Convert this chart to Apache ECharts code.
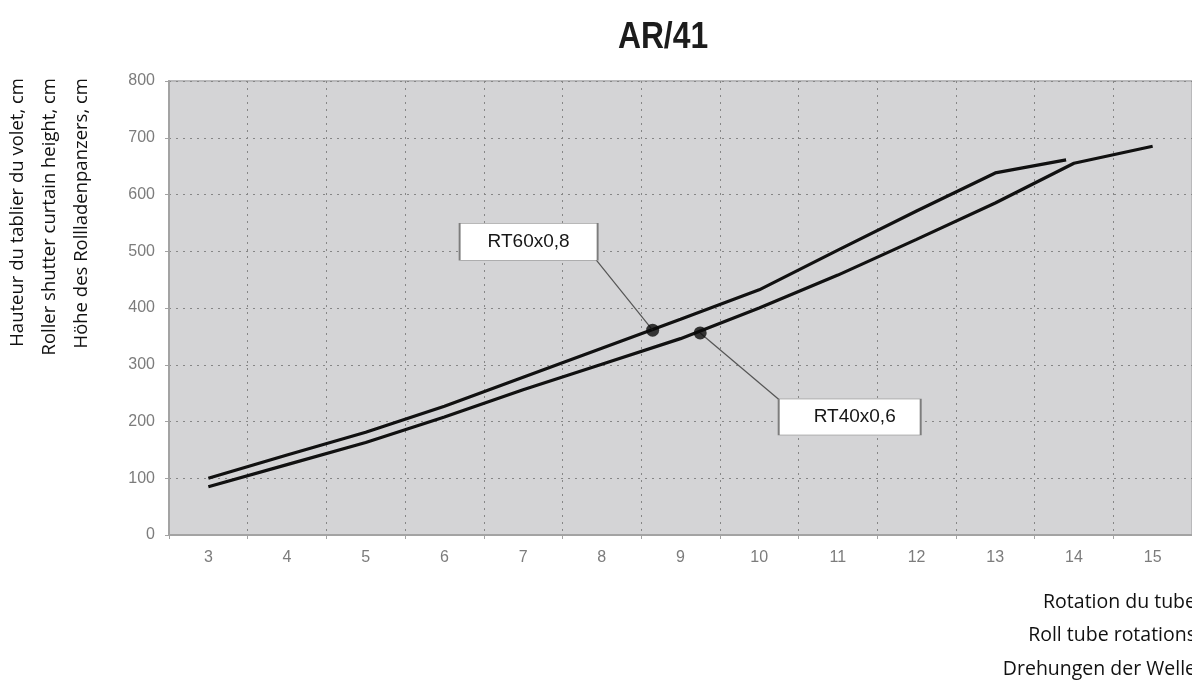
<!DOCTYPE html>
<html>
<head>
<meta charset="utf-8">
<script src="https://cdn.jsdelivr.net/npm/echarts@6/dist/echarts.min.js"></script>
<style>
  html, body { margin: 0; padding: 0; background: #ffffff; }
  #chart { width: 1192px; height: 680px; }
</style>
</head>
<body>
<div id="chart"></div>
<script>
// ---- data ----
const xCategories = ['3', '4', '5', '6', '7', '8', '9', '10', '11', '12', '13', '14', '15'];
const yTicks = [0, 100, 200, 300, 400, 500, 600, 700, 800];

const rt60Rotations = [3, 4, 5, 6, 7, 8, 9, 10, 11, 12, 13, 13.9];
const rt60Heights   = [100, 141, 181, 227, 278, 329, 380, 432, 502, 571, 638, 661];

const rt40Rotations = [3, 4, 5, 6, 7, 8, 9, 10, 11, 12, 13, 14, 15];
const rt40Heights   = [85, 124, 163, 208, 256, 301, 346, 400, 458, 521, 585, 655, 685];

const markerRotations = [8.646, 9.25];
const markerHeights   = [361, 356];

const labelNames = ['RT60x0,8', 'RT40x0,6'];
// label box centre, leader start (box corner) in data units
const labelBoxRot    = [7.07, 11.15];
const labelBoxHeight = [516.8, 208];
const leaderRot      = [7.928, 10.258];
const leaderHeight   = [484.6, 237.9];

const title = 'AR/41';
const yNameLines = ['Hauteur du tablier du volet, cm', 'Roller shutter curtain height, cm', 'Höhe des Rollladenpanzers, cm'];
const xNameLines = ['Rotation du tube', 'Roll tube rotations', 'Drehungen der Welle'];

// ---- build ----
const zip = (xs, ys) => xs.map((x, i) => [x, ys[i]]);
const chart = echarts.init(document.getElementById('chart'), null, { renderer: 'canvas' });

const tickFont = '"Liberation Sans", Arial, sans-serif';
const nameFont = '"Open Sans", "Noto Sans", sans-serif';

const lineStyleBlack = { color: '#111111', width: 3.2 };

const option = {
  animation: false,
  backgroundColor: '#ffffff',
  grid: {
    left: 169, right: -9, top: 81, bottom: 145,
    show: true, backgroundColor: '#d4d4d6', borderColor: '#b9b9bb', borderWidth: 2,
    containLabel: false
  },
  xAxis: [
    {
      type: 'category',
      data: xCategories,
      boundaryGap: true,
      axisLine: { show: true, lineStyle: { color: '#a3a3a3', width: 2 } },
      axisTick: { show: true, length: 4, lineStyle: { color: '#a3a3a3' } },
      axisLabel: { color: '#7c7c7c', fontSize: 16, fontFamily: tickFont, margin: 15 },
      splitLine: { show: true, lineStyle: { color: '#868686', width: 1, type: [2, 5] } }
    },
    {
      type: 'value', min: 2.5, max: 15.5, show: false,
      splitLine: { show: false }
    }
  ],
  yAxis: {
    type: 'value', min: yTicks[0], max: yTicks[yTicks.length - 1], interval: 100,
    axisLine: { show: true, lineStyle: { color: '#a3a3a3', width: 2 } },
    axisTick: { show: true, length: 4, lineStyle: { color: '#a3a3a3' } },
    axisLabel: { color: '#7c7c7c', fontSize: 16, fontFamily: tickFont, margin: 14 },
    splitLine: { show: true, lineStyle: { color: '#868686', width: 1, type: [2, 5] } }
  },
  graphic: [
    { type: 'text', x: 663, y: 38, scaleX: 0.86, style: { text: title, fill: '#1c1c1c', font: 'bold 37px "Liberation Sans", Arial, sans-serif', align: 'center', verticalAlign: 'middle' } },
    ...yNameLines.map((t, i) => ({
      type: 'text', x: 18 + i * 32, y: 78, rotation: Math.PI / 2,
      style: { text: t, fill: '#111111', font: '18.5px ' + nameFont, align: 'right', verticalAlign: 'middle' }
    })),
    ...xNameLines.map((t, i) => ({
      type: 'text', x: 1196, y: 602 + i * 33.5,
      style: { text: t, fill: '#111111', font: '19.5px ' + nameFont, align: 'right', verticalAlign: 'middle' }
    }))
  ],
  series: [
    {
      name: 'RT60x0,8', type: 'line', xAxisIndex: 1, yAxisIndex: 0,
      data: zip(rt60Rotations, rt60Heights),
      showSymbol: false, symbol: 'none', lineStyle: lineStyleBlack, z: 3,
      markLine: {
        silent: true, symbol: ['none', 'none'], label: { show: false },
        lineStyle: { color: '#555555', width: 1.2, type: 'solid' },
        data: [[{ coord: [leaderRot[0], leaderHeight[0]] }, { coord: [markerRotations[0], markerHeights[0]] }]]
      },
      markPoint: {
        silent: true, symbol: 'rect', symbolSize: [138, 37],
        itemStyle: { color: '#ffffff', borderColor: '#7d7d7d', borderWidth: 1 },
        label: { show: true, position: 'inside', color: '#161616', fontSize: 19, fontFamily: tickFont, formatter: labelNames[0] },
        data: [{ coord: [labelBoxRot[0], labelBoxHeight[0]], name: labelNames[0] }]
      }
    },
    {
      name: 'RT40x0,6', type: 'line', xAxisIndex: 1, yAxisIndex: 0,
      data: zip(rt40Rotations, rt40Heights),
      showSymbol: false, symbol: 'none', lineStyle: lineStyleBlack, z: 3,
      markLine: {
        silent: true, symbol: ['none', 'none'], label: { show: false },
        lineStyle: { color: '#555555', width: 1.2, type: 'solid' },
        data: [[{ coord: [markerRotations[1], markerHeights[1]] }, { coord: [leaderRot[1], leaderHeight[1]] }]]
      },
      markPoint: {
        silent: true, symbol: 'rect', symbolSize: [142, 36],
        itemStyle: { color: '#ffffff', borderColor: '#7d7d7d', borderWidth: 1 },
        label: { show: true, position: 'inside', color: '#161616', fontSize: 19, fontFamily: tickFont, formatter: labelNames[1], padding: [0, 0, 0, 10] },
        data: [{ coord: [labelBoxRot[1], labelBoxHeight[1]], name: labelNames[1] }]
      }
    },
    {
      type: 'scatter', xAxisIndex: 1, yAxisIndex: 0,
      data: zip(markerRotations, markerHeights),
      symbol: 'circle', symbolSize: 13, itemStyle: { color: '#0a0a0a' }, z: 5, silent: true
    }
  ]
};
chart.setOption(option);
</script>
</body>
</html>
